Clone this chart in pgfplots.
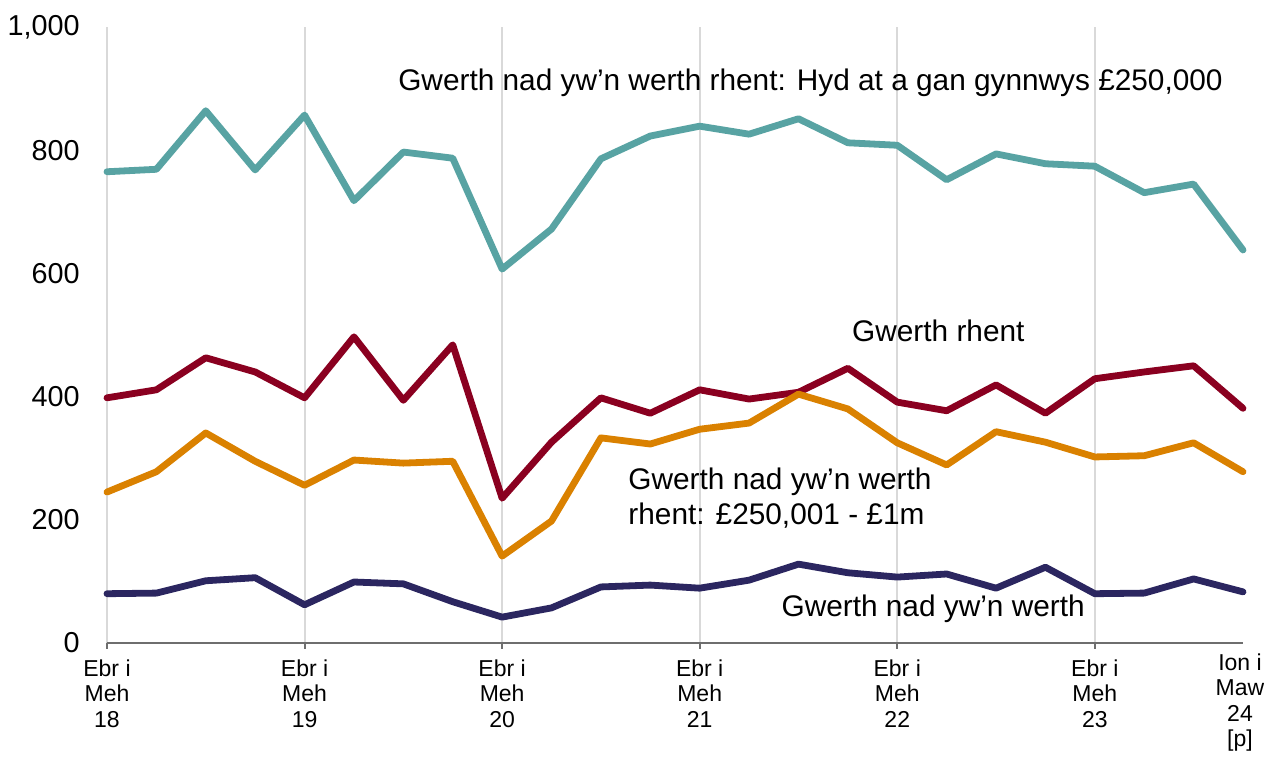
\documentclass[border=0pt]{standalone}
\usepackage{pgfplots}
\pgfplotsset{compat=1.18}
\usepackage{pgfplotstable}
\usepackage{fontspec}
\setmainfont{Liberation Sans}
\definecolor{cteal}{HTML}{58A3A3}
\definecolor{cred}{HTML}{8A0020}
\definecolor{corange}{HTML}{DA8100}
\definecolor{cnavy}{HTML}{2B2660}
\definecolor{cgrid}{HTML}{D9D9D9}
\definecolor{caxis}{HTML}{6E6E6E}

\pgfplotstableread{
x teal red orange navy
0 765 398 245 80
1 769 411 278 81
2 864 463 341 101
3 768 440 295 106
4 857 398 256 62
5 718 497 297 99
6 797 394 292 96
7 787 484 295 67
8 607 235 141 42
9 672 326 198 57
10 786 398 333 91
11 823 373 323 94
12 839 411 347 89
13 826 396 357 102
14 851 407 404 128
15 812 446 380 114
16 808 391 325 107
17 752 377 289 112
18 794 419 343 89
19 778 373 326 123
20 774 429 302 80
21 731 440 304 81
22 745 450 325 104
23 638 381 278 83
}\datatable

\begin{document}
\begin{tikzpicture}
\useasboundingbox (-53.5pt,-57.5pt) rectangle (578.5pt,321.5pt);
\begin{axis}[
  at={(0,0)}, anchor=south west,
  scale only axis, width=568pt, height=308pt,
  xmin=0, xmax=23, ymin=0, ymax=1000,
  axis x line*=bottom, axis y line=none,
  x axis line style={caxis, line width=1pt, -},
  xtick={0,4,8,12,16,20},
  extra x ticks={23},
  extra x tick style={major tick length=0pt, grid=none, xticklabel style={xshift=-1.5pt}},
  xticklabels={{Ebr i\\Meh\\18},{Ebr i\\Meh\\19},{Ebr i\\Meh\\20},{Ebr i\\Meh\\21},{Ebr i\\Meh\\22},{Ebr i\\Meh\\23}},
  extra x tick labels={{Ion i\\Maw\\24\\{[p]}}},
  xticklabel style={align=center, font=\fontsize{11.5}{12.6}\selectfont, anchor=north, yshift=-2pt},
  tick align=outside,
  major tick length=3pt,
  x tick style={caxis, line width=1pt},
  ytick={0,200,400,600,800,1000},
  yticklabels={},
  y tick style={draw=none},
  ymajorgrids, xmajorgrids,
  grid style={cgrid, line width=1pt},
  clip=false,
]
\addplot[cteal, line width=3.4pt, line join=round, line cap=round] table[x=x,y=teal] {\datatable};
\addplot[cred, line width=3.4pt, line join=round, line cap=round] table[x=x,y=red] {\datatable};
\addplot[corange, line width=3.4pt, line join=round, line cap=round] table[x=x,y=orange] {\datatable};
\addplot[cnavy, line width=3.4pt, line join=round, line cap=round] table[x=x,y=navy] {\datatable};
\foreach \v/\l in {0/0,200/200,400/400,600/600,800/800,1000/{1,000}} {
  \edef\tmp{\noexpand\node[anchor=east, font=\noexpand\fontsize{14.4}{16}\noexpand\selectfont, inner sep=0pt] at (axis cs:0,\v) [xshift=-13.5pt] {\l};}
  \tmp
}
\node[anchor=west, font=\fontsize{14.9}{17}\selectfont, inner sep=0pt] at (axis cs:5.89,909) {Gwerth nad yw’n werth rhent: Hyd at a gan gynnwys £250,000};
\node[anchor=west, font=\fontsize{14.9}{17}\selectfont, inner sep=0pt] at (axis cs:15.08,506) {Gwerth rhent};
\node[anchor=west, align=left, font=\fontsize{14.9}{17.5}\selectfont, inner sep=0pt] at (axis cs:10.55,235) {Gwerth nad yw’n werth\\rhent: £250,001 - £1m};
\node[anchor=west, font=\fontsize{14.9}{17}\selectfont, inner sep=0pt] at (axis cs:13.65,55) {Gwerth nad yw’n werth};
\end{axis}
\end{tikzpicture}
\end{document}
